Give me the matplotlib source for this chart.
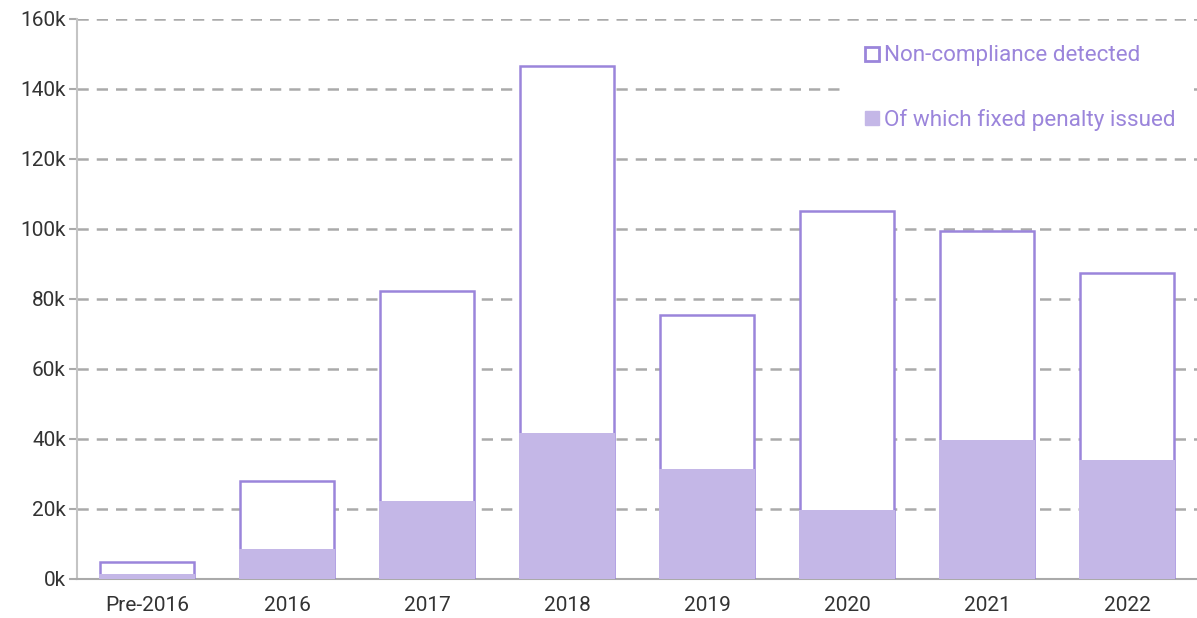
import matplotlib
matplotlib.use("Agg")
import matplotlib.pyplot as plt
from matplotlib.lines import Line2D

# values in thousands
years = ["Pre-2016", "2016", "2017", "2018", "2019", "2020", "2021", "2022"]
detected = [4.9, 28.0, 82.3, 146.6, 75.4, 105.1, 99.4, 87.4]
penalty = [1.3, 8.6, 22.3, 41.7, 31.4, 19.7, 39.7, 34.0]

edge_col = "#9b85db"
fill_col = "#c4b7e7"
text_col = "#333333"

plt.rcParams["font.family"] = ["Roboto", "DejaVu Sans"]

fig = plt.figure(figsize=(11.97, 6.18), dpi=100)
ax = fig.add_axes([77 / 1197, 1 - 579 / 618, 1 - 77 / 1197, (579 - 19) / 618])

x = range(len(years))
ax.bar(x, detected, width=0.67, facecolor="white", edgecolor=edge_col,
       linewidth=1.8, zorder=3)
ax.bar(x, penalty, width=0.685, color=fill_col, linewidth=0, zorder=4)

ax.set_xlim(-0.5, 7.5)
ax.set_ylim(0, 160)
ax.set_yticks(range(0, 161, 20))
ax.set_yticklabels([f"{v}k" for v in range(0, 161, 20)])
ax.set_xticks(list(x))
ax.set_xticklabels(years)

ax.grid(axis="y", color="#aaaaaa", linestyle=(0, (4.5, 3.2)), linewidth=1.8, zorder=1)
ax.set_axisbelow(True)
for s in ["top", "right"]:
    ax.spines[s].set_visible(False)
ax.spines["left"].set_color("#c4c4c4")
ax.spines["bottom"].set_color("#aaaaaa")
ax.spines["left"].set_linewidth(1.5)
ax.spines["bottom"].set_linewidth(1.5)
ax.tick_params(axis="y", length=6, color="#aaaaaa", width=1.5,
               labelsize=15, labelcolor=text_col, pad=2)
ax.tick_params(axis="x", length=0, labelsize=15, labelcolor=text_col, pad=12)

handles = [
    Line2D([], [], marker="s", linestyle="none", markersize=10,
           markerfacecolor="white", markeredgecolor=edge_col, markeredgewidth=2),
    Line2D([], [], marker="s", linestyle="none", markersize=10,
           markerfacecolor=fill_col, markeredgecolor=fill_col),
]
leg = ax.legend(handles, ["Non-compliance detected", "Of which fixed penalty issued"],
                loc="upper right", bbox_to_anchor=(1.003, 0.997), frameon=True,
                fontsize=16.2, labelspacing=1.9, handletextpad=0.0,
                handlelength=1.1, borderpad=0.6)
leg.get_frame().set_facecolor("white")
leg.get_frame().set_edgecolor("none")
leg.get_frame().set_alpha(1)
leg.set_zorder(5)
for t in leg.get_texts():
    t.set_color(edge_col)

fig.savefig("out.png", dpi=100)
